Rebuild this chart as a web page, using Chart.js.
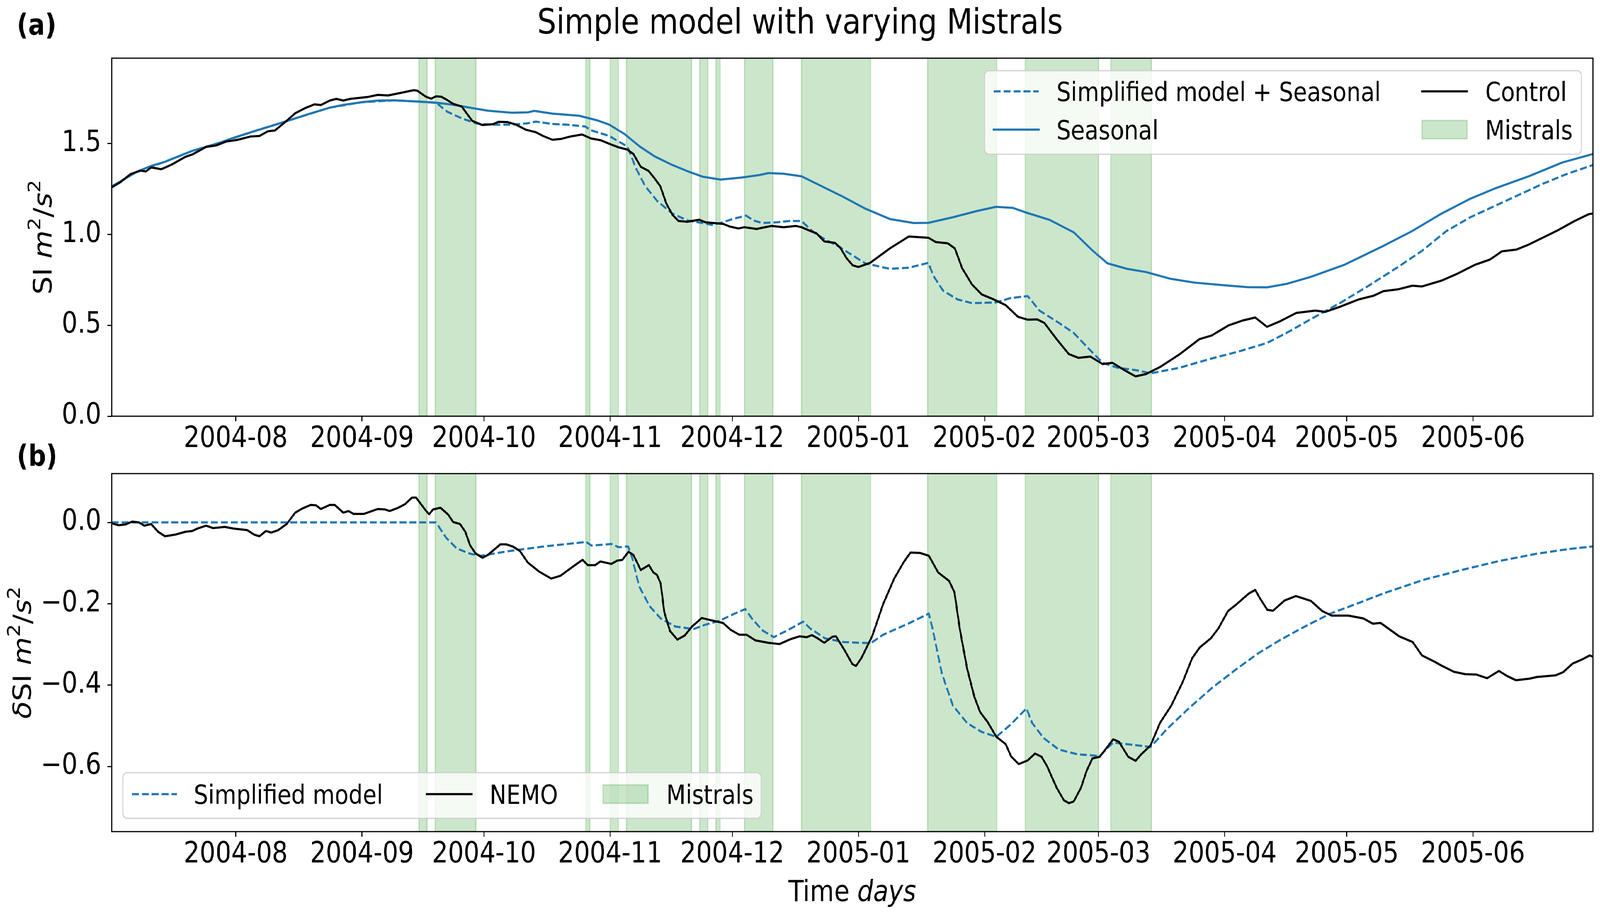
<!DOCTYPE html>
<html><head><meta charset="utf-8">
<script src="https://cdn.jsdelivr.net/npm/chart.js@4.4.1/dist/chart.umd.min.js"></script>
<style>
html,body{margin:0;padding:0;background:#fff;overflow:hidden;}
#wrap{position:absolute;left:0;top:0;width:4755px;height:2341px;overflow:hidden;background:#fff;transform-origin:0 0;}
canvas{position:absolute;left:0;top:0;}
</style></head><body>
<div id="wrap">
<canvas id="cA" width="4755" height="2341" style="width:4755px;height:2341px"></canvas>
<canvas id="cB" width="4755" height="2341" style="width:4755px;height:2341px"></canvas>
</div>
<script>
// fit the fixed 4755x2341 drawing into whatever viewport the browser really has
(function () {
  const sx = window.innerWidth / 4755, sy = window.innerHeight / 2341;
  document.getElementById('wrap').style.transform = 'scale(' + sx + ',' + sy + ')';
})();

// ---------------- data (days since 2004-07-01 00:00) ----------------
const X_MIN = 0.5, X_MAX = 364.5;
const monthTickDays = [31, 62, 92, 123, 153, 184, 215, 243, 274, 304, 335];
const monthTickLabels = ['2004-08','2004-09','2004-10','2004-11','2004-12','2005-01','2005-02','2005-03','2005-04','2005-05','2005-06'];
const topYTicks = [0, 0.5, 1.0, 1.5];
const topYLabels = ['0.0', '0.5', '1.0', '1.5'];
const botYTicks = [-0.6, -0.4, -0.2, 0.0];
const botYLabels = ['\u22120.6', '\u22120.4', '\u22120.2', '0.0'];
const mistralStart = [76, 80, 117, 123, 127, 145, 149, 156, 170, 201, 225, 246];
const mistralEnd   = [78, 90, 118, 125, 143, 147, 150, 163, 187, 218, 243, 256];

const TITLE = 'Simple model with varying Mistrals';
const topLegendLabels = ['Simplified model + Seasonal', 'Seasonal', 'Control', 'Mistrals'];
const botLegendLabels = ['Simplified model', 'NEMO', 'Mistrals'];

// Panel (a): Seasonal
const seasDays = [0.5,3.4,6.8,10.2,13.6,16.9,20.3,23.7,27.1,30.9,35.5,40.6,44.8,49,54.1,57.4,62,65.9,70.1,76,80.2,84.4,89.5,92.9,98.8,102.8,104.3,108.8,115.4,119.8,122.8,126.5,130.2,133.9,138.3,142,145.7,150.1,155.3,159.7,161.9,165.6,170,175.9,180,185.7,191.7,197.6,201.2,207.1,213.1,217.8,222,225,230.9,236.9,241.6,245.2,250,254.7,260.7,266.6,273.7,279.7,284.4,289.2,295.1,303.5,313,320.1,327.3,334.4,340.3,348.7,357,364.5];
const seasSI = [1.264,1.302,1.347,1.377,1.400,1.430,1.460,1.482,1.505,1.535,1.568,1.603,1.633,1.663,1.698,1.713,1.728,1.737,1.738,1.731,1.725,1.714,1.694,1.681,1.670,1.672,1.680,1.665,1.653,1.628,1.604,1.553,1.485,1.430,1.382,1.348,1.318,1.302,1.313,1.327,1.338,1.334,1.320,1.255,1.210,1.142,1.085,1.063,1.064,1.094,1.129,1.152,1.146,1.122,1.081,1.012,0.910,0.841,0.811,0.793,0.756,0.735,0.721,0.710,0.709,0.728,0.766,0.834,0.937,1.019,1.115,1.197,1.252,1.320,1.396,1.443];

// Panel (a): Simplified model + Seasonal
const simpDays = [0.5,6.8,13.6,20.3,27.1,35.5,44.8,54.1,62,70.1,76,78,80.3,82.9,86.6,90.3,94,99.1,102.8,104.7,108.8,112.4,116.9,118.3,122.8,125,127.2,129.4,131.6,134.6,138.3,142,145.7,147.9,150.1,153.1,156.4,158.2,160.4,164.1,167.1,170,173,175.9,178.9,181.5,185.7,191.7,196.4,201.2,202.4,204.8,208.3,211.9,217.8,221.4,225.6,228.5,233.3,236.9,240.4,244,247.6,252.3,255.9,263,270.2,277.3,284.4,289.2,295.1,302.3,309.4,316.6,322.5,328.5,334.4,340.3,346.3,352.2,358.2,364.5];
const simpSI = [1.264,1.347,1.400,1.460,1.505,1.568,1.633,1.698,1.728,1.738,1.731,1.728,1.724,1.676,1.638,1.610,1.604,1.604,1.612,1.621,1.608,1.604,1.594,1.573,1.542,1.512,1.485,1.361,1.266,1.183,1.115,1.077,1.063,1.053,1.063,1.085,1.104,1.077,1.063,1.067,1.074,1.074,1.012,0.971,0.937,0.900,0.841,0.811,0.817,0.844,0.773,0.691,0.643,0.622,0.626,0.650,0.661,0.581,0.513,0.458,0.376,0.294,0.267,0.253,0.236,0.267,0.314,0.355,0.403,0.458,0.533,0.622,0.718,0.821,0.910,1.019,1.095,1.156,1.218,1.279,1.334,1.382];

// Panel (a): Control
const ctrlDays = [0.5,2.6,5.1,7.6,8.9,10.2,12.7,15.2,18.6,20.3,23.7,26.2,28.7,31.3,34.6,36.8,38.9,40.6,43.1,45.6,48.1,50.3,51.9,54.1,55.7,57.4,59.1,63.3,65.9,68.4,70.9,74.7,75.6,77.7,79,80.2,81.5,82.7,84.4,86.5,89.1,91.6,94.2,95.6,97.8,99.8,102.3,104.7,106.5,108.8,111,113.2,116.1,118.3,120.6,123.1,125,127.2,128.7,130.5,132.4,133.9,135.3,136.8,138.3,139.8,142,144.9,146.4,150.8,152.3,154.5,156,159,160.4,162.7,165.6,168.6,170,172.2,173.7,175.6,178.2,179.5,181.1,182.6,184,186.9,191.7,196.4,201.2,203,206,207.7,209.5,211.9,214.3,217.2,220.2,223.2,225.6,227.9,229.7,232.7,235.7,238.1,241,244,246.4,249.4,252.1,254.7,258.3,263,267.8,270.8,274.9,278.5,281.5,284.4,287.4,291.6,296.3,298.7,302.3,307,310.6,313,316.6,320.1,322.5,327.3,330.8,335.6,339.2,342.1,345.7,348.7,355.8,360,363.5,364.5];
const ctrlSI = [1.259,1.287,1.332,1.351,1.347,1.369,1.359,1.384,1.427,1.440,1.482,1.490,1.512,1.520,1.539,1.542,1.568,1.572,1.618,1.667,1.696,1.716,1.712,1.737,1.746,1.737,1.746,1.756,1.768,1.765,1.776,1.794,1.791,1.758,1.747,1.760,1.758,1.743,1.719,1.704,1.625,1.602,1.607,1.620,1.618,1.605,1.576,1.563,1.542,1.521,1.526,1.539,1.550,1.528,1.519,1.496,1.480,1.467,1.443,1.372,1.350,1.309,1.266,1.170,1.108,1.074,1.070,1.081,1.067,1.058,1.044,1.033,1.040,1.030,1.037,1.047,1.040,1.047,1.040,1.019,1.006,0.962,0.954,0.928,0.869,0.830,0.821,0.844,0.923,0.989,0.982,0.958,0.951,0.923,0.814,0.725,0.670,0.643,0.611,0.547,0.531,0.533,0.513,0.424,0.342,0.321,0.328,0.287,0.294,0.253,0.219,0.232,0.273,0.342,0.424,0.444,0.499,0.527,0.543,0.492,0.520,0.568,0.581,0.574,0.602,0.643,0.663,0.688,0.698,0.718,0.714,0.746,0.780,0.834,0.862,0.907,0.917,0.944,1.022,1.074,1.112,1.115];

// Panel (b): Simplified model anomaly
const dsimpDays = [0.5,79,80.2,82.7,85.3,88.6,91.2,97.8,106.8,117.1,118.4,123.3,125.1,127.4,128.3,130.1,132.7,135.4,139,143.5,146.2,149.8,153.4,156.2,157.8,160.5,163.2,166.8,170.4,172.2,175.8,180.3,187,190.1,196.4,201.3,202.2,204.5,207.2,210.7,214.3,217.9,221.5,225.3,226.7,229.5,233.2,237.8,243.3,246.6,251.7,255.8,260,265.5,271.1,276.7,282.2,287.8,293.3,299.8,307.2,313.7,322.9,332.2,341.4,350.7,358.1,364.5];
const dsimpSI = [0,0,0,-0.038,-0.064,-0.077,-0.082,-0.071,-0.059,-0.048,-0.057,-0.053,-0.061,-0.059,-0.083,-0.157,-0.206,-0.236,-0.256,-0.262,-0.252,-0.242,-0.225,-0.213,-0.236,-0.266,-0.282,-0.264,-0.244,-0.261,-0.285,-0.294,-0.297,-0.276,-0.248,-0.224,-0.261,-0.371,-0.450,-0.493,-0.515,-0.527,-0.496,-0.457,-0.493,-0.530,-0.558,-0.570,-0.574,-0.541,-0.547,-0.552,-0.506,-0.454,-0.405,-0.362,-0.322,-0.288,-0.258,-0.225,-0.197,-0.172,-0.141,-0.117,-0.095,-0.077,-0.066,-0.059];

// Panel (b): NEMO anomaly
const nemoDays = [0.5,2.2,3.9,5.5,7.2,8.5,10.2,11.9,13.6,16.1,18.6,20.3,21.6,23.7,25.4,28.3,30.4,33.8,35.5,36.8,38.4,39.7,41.4,43.5,45.6,47.3,49.4,50.7,51.9,54.1,55.3,57.4,58.7,59.9,62.5,64.2,65.9,67.6,68.8,70.9,72.6,74.3,75.3,77.7,78.5,79.5,81.3,83.2,84.4,86.1,87.4,88.6,89.9,91.6,92.9,94.6,96,97.5,99,100.8,102.7,105.4,108.5,110.8,113.5,116.2,117.5,119.3,120.6,123.3,124.7,126,127.5,128.7,130.5,132.5,133.6,134.5,135.4,136.3,137.7,139.5,141.3,143.1,145.5,148,150.7,152.6,154.7,156.5,158.7,161.9,164.6,167.3,169.5,171.3,172.6,174,175.6,177.6,178.5,180.7,182.5,183.4,184.7,187.4,190.1,192.8,195.1,196.8,199.1,201.3,203.6,206.3,207.6,208.9,210.7,212.5,213.9,215.7,217.9,220.2,221.5,223.4,225.6,227.4,229,230.4,232.7,234.5,235.7,236.9,238.7,240.1,241.5,243.3,244.7,246.6,248,250.3,252.1,253.5,255.8,258.1,260.9,263.7,266,267.9,270.6,272.5,274.8,276.7,279.9,281.5,282.7,284.5,285.9,288.7,291.5,295.2,298,300.3,304.4,308.1,310.4,312.3,316.9,320.2,322.5,325.7,327.1,330.3,333.1,335.9,338.5,341.4,343.3,345.6,348.9,350.7,355.3,357.2,359.5,361.8,363.7,364.5];
const nemoSI = [-0.002,-0.007,-0.005,0.002,0,-0.008,-0.004,-0.023,-0.034,-0.030,-0.023,-0.021,-0.015,-0.008,-0.014,-0.011,-0.015,-0.019,-0.030,-0.034,-0.021,-0.025,-0.019,-0.004,0.024,0.034,0.043,0.042,0.033,0.043,0.043,0.024,0.028,0.021,0.021,0.027,0.033,0.032,0.028,0.036,0.045,0.061,0.061,0.029,0.020,0.032,0.036,0.019,0.001,-0.004,-0.023,-0.057,-0.076,-0.087,-0.080,-0.066,-0.054,-0.054,-0.059,-0.070,-0.098,-0.120,-0.138,-0.131,-0.111,-0.092,-0.105,-0.105,-0.096,-0.102,-0.094,-0.092,-0.072,-0.080,-0.117,-0.105,-0.123,-0.129,-0.150,-0.221,-0.267,-0.288,-0.278,-0.256,-0.235,-0.241,-0.247,-0.264,-0.276,-0.276,-0.290,-0.296,-0.299,-0.287,-0.280,-0.282,-0.277,-0.285,-0.296,-0.281,-0.280,-0.316,-0.348,-0.353,-0.334,-0.279,-0.200,-0.138,-0.098,-0.074,-0.075,-0.082,-0.123,-0.144,-0.172,-0.261,-0.359,-0.429,-0.466,-0.490,-0.527,-0.545,-0.575,-0.594,-0.585,-0.568,-0.576,-0.600,-0.652,-0.683,-0.690,-0.686,-0.652,-0.610,-0.580,-0.576,-0.558,-0.533,-0.539,-0.576,-0.586,-0.570,-0.548,-0.493,-0.450,-0.392,-0.334,-0.307,-0.285,-0.260,-0.218,-0.203,-0.175,-0.166,-0.187,-0.215,-0.217,-0.192,-0.181,-0.193,-0.218,-0.229,-0.229,-0.236,-0.249,-0.247,-0.280,-0.294,-0.327,-0.343,-0.351,-0.367,-0.373,-0.374,-0.383,-0.365,-0.377,-0.388,-0.384,-0.380,-0.376,-0.368,-0.347,-0.337,-0.327,-0.330];

// ---------------- styles ----------------
const FONT = "'DejaVu Sans', sans-serif";
const BLUE = '#1f77b4';
const BLACK = '#000000';
const LW = 5.5;
const DASH = [20.6, 8.9];
const SPAN_FILL = 'rgba(0,128,0,0.2)';
const SPAN_EDGE = 'rgba(0,128,0,0.2)';
const TICK_SIZE = 74;

function pts(xs, ys) { return xs.map((x, i) => ({ x: x, y: ys[i] })); }

function lineDs(label, xs, ys, color, dashed) {
  return {
    label: label, data: pts(xs, ys), borderColor: color, backgroundColor: color,
    borderWidth: LW, borderDash: dashed ? DASH : [], borderCapStyle: 'butt',
    borderJoinStyle: 'round', pointRadius: 0, pointHoverRadius: 0, fill: false, tension: 0
  };
}

function drawRich(ctx, parts, size, x, y) {
  const fontFor = (st) => {
    const sz = st === 's' ? size * 0.7 : size;
    const it = (st === 'i') ? 'italic ' : '';
    return it + sz + 'px ' + FONT;
  };
  let total = 0;
  const widths = parts.map(p => { ctx.font = fontFor(p[1]); const w = ctx.measureText(p[0]).width; total += w; return w; });
  let cx = x - total / 2;
  ctx.textAlign = 'left';
  ctx.textBaseline = 'alphabetic';
  ctx.fillStyle = '#000';
  parts.forEach((p, i) => {
    ctx.font = fontFor(p[1]);
    const dy = p[1] === 's' ? -0.45 * size : 0;
    ctx.fillText(p[0], cx, y + dy);
    cx += widths[i];
  });
}

function roundRectPath(ctx, x1, y1, x2, y2, r) {
  ctx.beginPath();
  ctx.moveTo(x1 + r, y1);
  ctx.lineTo(x2 - r, y1); ctx.arcTo(x2, y1, x2, y1 + r, r);
  ctx.lineTo(x2, y2 - r); ctx.arcTo(x2, y2, x2 - r, y2, r);
  ctx.lineTo(x1 + r, y2); ctx.arcTo(x1, y2, x1, y2 - r, r);
  ctx.lineTo(x1, y1 + r); ctx.arcTo(x1, y1, x1 + r, y1, r);
  ctx.closePath();
}

function drawLegend(ctx, box, items) {
  ctx.save();
  roundRectPath(ctx, box[0], box[1], box[2], box[3], 13);
  ctx.fillStyle = 'rgba(255,255,255,0.8)';
  ctx.fill();
  ctx.lineWidth = 3.7;
  ctx.strokeStyle = 'rgba(204,204,204,0.8)';
  ctx.stroke();
  const HL = 134;
  items.forEach(it => {
    if (it.kind === 'line') {
      ctx.beginPath();
      ctx.setLineDash(it.dashed ? DASH : []);
      ctx.lineCap = it.dashed ? 'butt' : 'square';
      ctx.lineWidth = LW;
      ctx.strokeStyle = it.color;
      ctx.moveTo(it.hx, it.y); ctx.lineTo(it.hx + HL, it.y);
      ctx.stroke();
      ctx.setLineDash([]);
    } else {
      ctx.fillStyle = SPAN_FILL;
      ctx.fillRect(it.hx, it.y - 23.5, HL, 47);
      ctx.strokeStyle = SPAN_EDGE; ctx.lineWidth = 3.7;
      ctx.strokeRect(it.hx, it.y - 23.5, HL, 47);
    }
    ctx.font = '67px ' + FONT;
    ctx.fillStyle = '#000';
    ctx.textAlign = 'left';
    ctx.textBaseline = 'alphabetic';
    ctx.fillText(it.label, it.tx, it.y + 24.5);
  });
  ctx.restore();
}

function decor(extra) {
  return {
    id: 'decor',
    beforeDatasetsDraw(chart) {
      const ctx = chart.ctx, a = chart.chartArea, xs = chart.scales.x;
      ctx.save();
      ctx.beginPath(); ctx.rect(a.left, a.top, a.right - a.left, a.bottom - a.top); ctx.clip();
      for (let i = 0; i < mistralStart.length; i++) {
        const x1 = xs.getPixelForValue(mistralStart[i]);
        const x2 = xs.getPixelForValue(mistralEnd[i]);
        ctx.fillStyle = SPAN_FILL;
        ctx.fillRect(x1, a.top, x2 - x1, a.bottom - a.top);
        ctx.strokeStyle = SPAN_EDGE; ctx.lineWidth = 3.7;
        ctx.strokeRect(x1, a.top, x2 - x1, a.bottom - a.top);
      }
      ctx.restore();
    },
    afterDatasetsDraw(chart) {
      const ctx = chart.ctx, a = chart.chartArea;
      ctx.save();
      ctx.strokeStyle = '#000'; ctx.lineWidth = 3;
      ctx.strokeRect(a.left, a.top, a.right - a.left, a.bottom - a.top);
      ctx.restore();
    },
    afterDraw(chart) { chart.ctx.save(); extra(chart.ctx, chart); chart.ctx.restore(); }
  };
}

function xScale() {
  return {
    type: 'linear', min: X_MIN, max: X_MAX,
    afterBuildTicks: s => { s.ticks = monthTickDays.map(v => ({ value: v })); },
    afterFit: s => { s.height = 150; },
    ticks: {
      autoSkip: false, maxRotation: 0, minRotation: 0, padding: 2, color: '#000',
      font: { family: FONT, size: TICK_SIZE, lineHeight: 1.2 },
      callback: (v, i) => monthTickLabels[i]
    },
    grid: { display: true, drawOnChartArea: false, drawTicks: true, tickLength: 13, tickWidth: 3, tickColor: '#000' },
    border: { display: false }
  };
}
function yScale(min, max, ticks, labels) {
  return {
    type: 'linear', min: min, max: max,
    afterBuildTicks: s => { s.ticks = ticks.map(v => ({ value: v })); },
    afterFit: s => { s.width = 332; },
    ticks: {
      autoSkip: false, padding: 18, color: '#000',
      font: { family: FONT, size: TICK_SIZE, lineHeight: 1.2 },
      callback: (v, i) => labels[i]
    },
    grid: { display: true, drawOnChartArea: false, drawTicks: true, tickLength: 13, tickWidth: 3, tickColor: '#000' },
    border: { display: false }
  };
}
function baseOptions(padding, yopts) {
  return {
    responsive: false, maintainAspectRatio: false, animation: false, devicePixelRatio: 1, events: [],
    layout: { padding: padding, autoPadding: false },
    plugins: { legend: { display: false }, title: { display: false }, tooltip: { enabled: false } },
    scales: { x: xScale(), y: yopts }
  };
}

// ---------------- top panel ----------------
new Chart(document.getElementById('cA'), {
  type: 'line',
  data: { datasets: [
    lineDs(topLegendLabels[2], ctrlDays, ctrlSI, BLACK, false),
    lineDs(topLegendLabels[0], simpDays, simpSI, BLUE, true),
    lineDs(topLegendLabels[1], seasDays, seasSI, BLUE, false)
  ] },
  options: baseOptions({ left: 0, top: 149, right: 21, bottom: 2341 - 1066 - 150 }, yScale(0, 1.97, topYTicks, topYLabels)),
  plugins: [decor((ctx, chart) => {
    ctx.fillStyle = '#000';
    ctx.textBaseline = 'alphabetic';
    ctx.font = '89px ' + FONT; ctx.textAlign = 'center';
    ctx.fillText(TITLE, 2377.5, 86);
    ctx.font = 'bold 74px ' + FONT; ctx.textAlign = 'left';
    ctx.fillText('(a)', 50, 89);
    ctx.save();
    ctx.translate(153, (chart.chartArea.top + chart.chartArea.bottom) / 2);
    ctx.rotate(-Math.PI / 2);
    drawRich(ctx, [['SI ', 'n'], ['m', 'i'], ['2', 's'], ['/', 'n'], ['s', 'i'], ['2', 's']], TICK_SIZE, 0, 0);
    ctx.restore();
    drawLegend(ctx, [2926, 181, 4700, 395], [
      { kind: 'line', dashed: true, color: BLUE, hx: 2953, y: 234, tx: 3140, label: topLegendLabels[0] },
      { kind: 'line', dashed: false, color: BLUE, hx: 2953, y: 332, tx: 3140, label: topLegendLabels[1] },
      { kind: 'line', dashed: false, color: BLACK, hx: 4226, y: 234, tx: 4414, label: topLegendLabels[2] },
      { kind: 'patch', hx: 4226, y: 332, tx: 4414, label: topLegendLabels[3] }
    ]);
  })]
});

// ---------------- bottom panel ----------------
new Chart(document.getElementById('cB'), {
  type: 'line',
  data: { datasets: [
    lineDs(botLegendLabels[1], nemoDays, nemoSI, BLACK, false),
    lineDs(botLegendLabels[0], dsimpDays, dsimpSI, BLUE, true)
  ] },
  options: baseOptions({ left: 0, top: 1213, right: 21, bottom: 2341 - 2130 - 150 }, yScale(-0.76, 0.12, botYTicks, botYLabels)),
  plugins: [decor((ctx, chart) => {
    ctx.fillStyle = '#000';
    ctx.textBaseline = 'alphabetic';
    ctx.font = 'bold 74px ' + FONT; ctx.textAlign = 'left';
    ctx.fillText('(b)', 50, 1193);
    ctx.save();
    ctx.translate(92, (chart.chartArea.top + chart.chartArea.bottom) / 2);
    ctx.rotate(-Math.PI / 2);
    drawRich(ctx, [['\u03b4', 'i'], ['SI ', 'n'], ['m', 'i'], ['2', 's'], ['/', 'n'], ['s', 'i'], ['2', 's']], TICK_SIZE, 0, 0);
    ctx.restore();
    drawRich(ctx, [['Time ', 'n'], ['days', 'i']], TICK_SIZE, (chart.chartArea.left + chart.chartArea.right) / 2, 2308);
    drawLegend(ctx, [365, 1979, 2262, 2096], [
      { kind: 'line', dashed: true, color: BLUE, hx: 392, y: 2034, tx: 576, label: botLegendLabels[0] },
      { kind: 'line', dashed: false, color: BLACK, hx: 1268, y: 2034, tx: 1455, label: botLegendLabels[1] },
      { kind: 'patch', hx: 1792, y: 2034, tx: 1980, label: botLegendLabels[2] }
    ]);
  })]
});
</script>
</body></html>
